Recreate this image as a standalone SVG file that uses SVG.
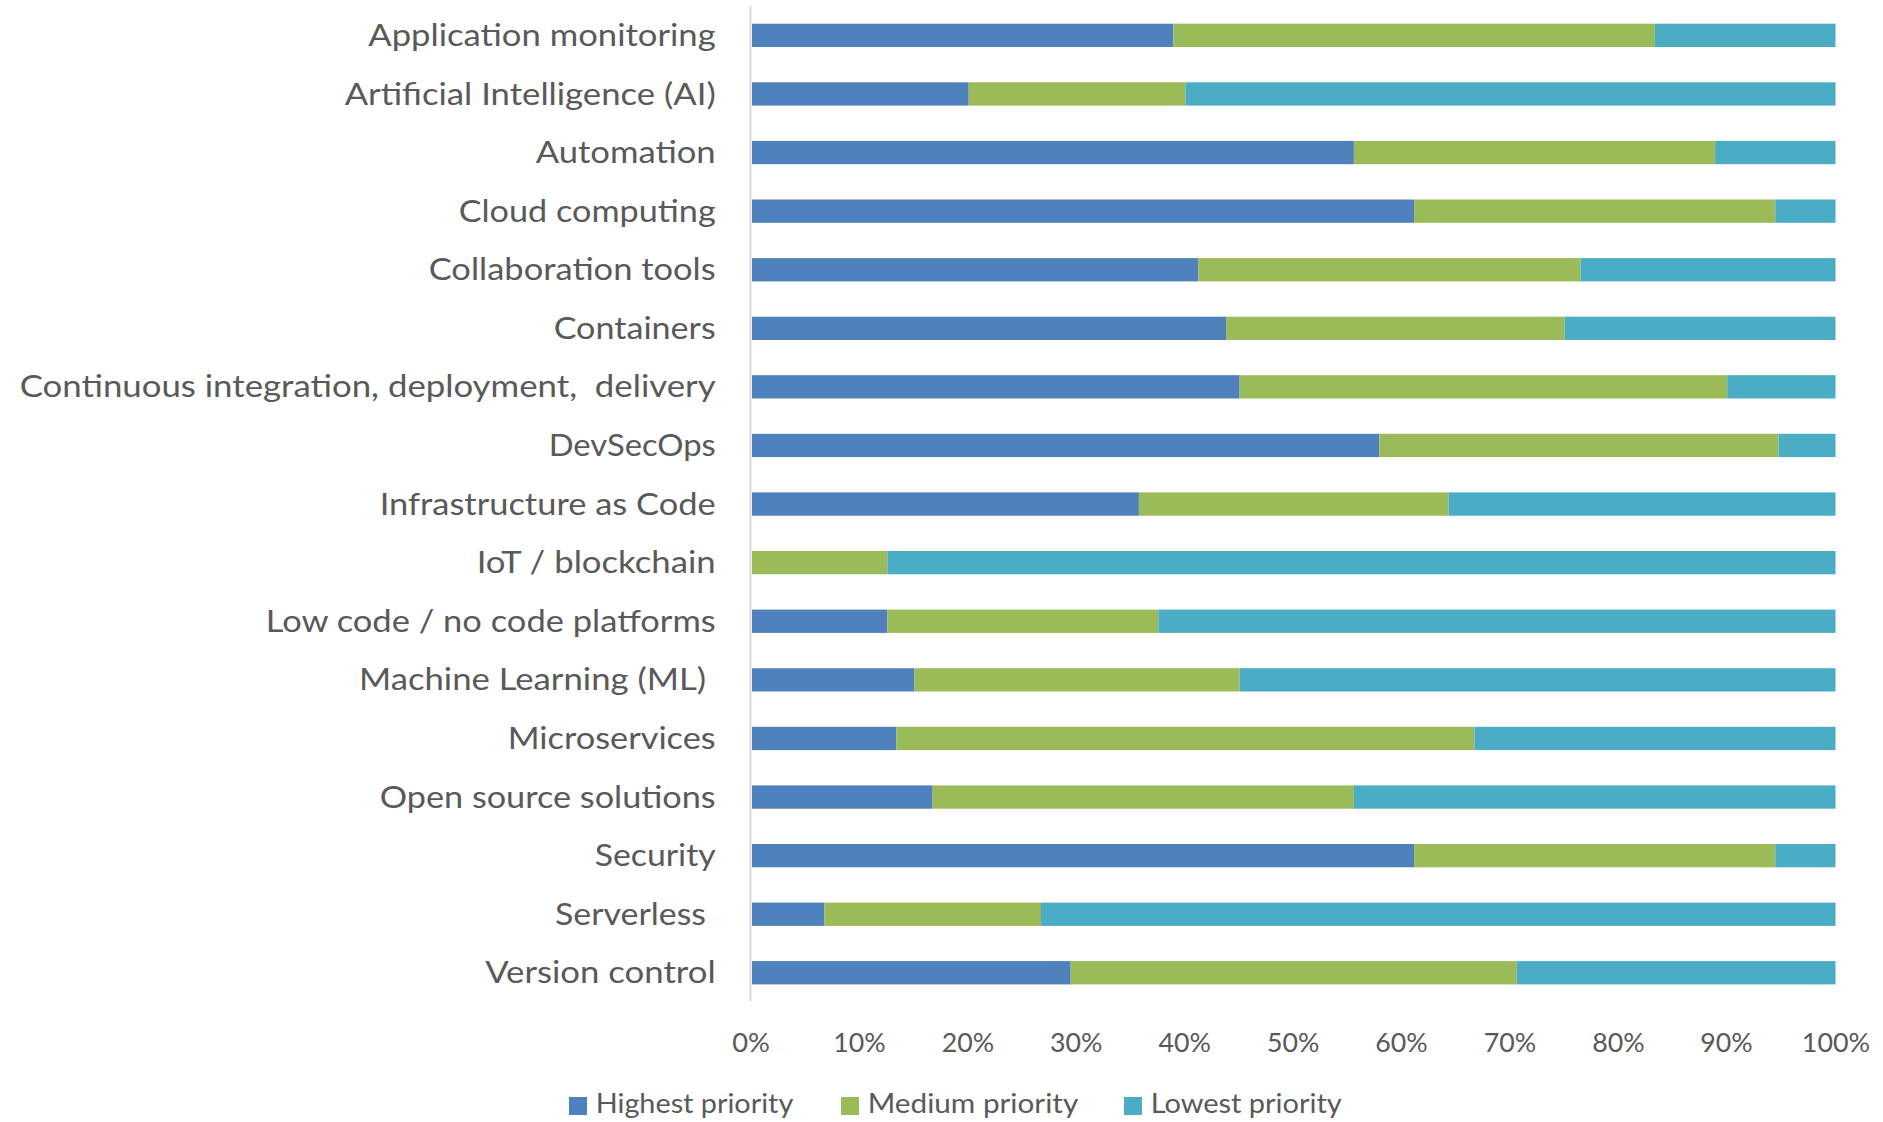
<svg xmlns="http://www.w3.org/2000/svg" width="1883" height="1122" viewBox="0 0 1883 1122">
<style>
.lbl{font-family:Lato,"Liberation Sans",sans-serif;font-size:31.7px;fill:#595959;text-anchor:end}
.tick{font-family:Lato,"Liberation Sans",sans-serif;font-size:26.5px;fill:#595959;text-anchor:middle}
.leg{font-family:Lato,"Liberation Sans",sans-serif;font-size:27px;fill:#595959}
.hi{fill:#4F81BD}
.md{fill:#9BBB59}
.lo{fill:#4BACC6}
</style>
<rect width="1883" height="1122" fill="#ffffff"/>
<g id="axis">
<line x1="750.5" y1="6" x2="750.5" y2="1001" stroke="#d9d9d9" stroke-width="2"/>
</g>
<g id="row-application-monitoring">
<rect class="hi" x="752" y="23.7" width="421.4" height="23.3"/>
<rect class="md" x="1173.4" y="23.7" width="481.5" height="23.3"/>
<rect class="lo" x="1654.9" y="23.7" width="180.6" height="23.3"/>
<text class="lbl" x="715.7" y="45.9" textLength="347.4" lengthAdjust="spacingAndGlyphs">Application monitoring</text>
</g>
<g id="row-ai">
<rect class="hi" x="752" y="82.3" width="216.7" height="23.3"/>
<rect class="md" x="968.7" y="82.3" width="216.7" height="23.3"/>
<rect class="lo" x="1185.4" y="82.3" width="650.1" height="23.3"/>
<text class="lbl" x="715.7" y="104.5" textLength="371" lengthAdjust="spacingAndGlyphs">Artificial Intelligence (AI)</text>
</g>
<g id="row-automation">
<rect class="hi" x="752" y="140.9" width="601.9" height="23.3"/>
<rect class="md" x="1353.9" y="140.9" width="361.2" height="23.3"/>
<rect class="lo" x="1715.1" y="140.9" width="120.4" height="23.3"/>
<text class="lbl" x="715.7" y="163.1" textLength="180" lengthAdjust="spacingAndGlyphs">Automation</text>
</g>
<g id="row-cloud-computing">
<rect class="hi" x="752" y="199.5" width="662.1" height="23.3"/>
<rect class="md" x="1414.1" y="199.5" width="361.2" height="23.3"/>
<rect class="lo" x="1775.3" y="199.5" width="60.2" height="23.3"/>
<text class="lbl" x="715.7" y="221.7" textLength="257" lengthAdjust="spacingAndGlyphs">Cloud computing</text>
</g>
<g id="row-collaboration-tools">
<rect class="hi" x="752" y="258.1" width="446.2" height="23.3"/>
<rect class="md" x="1198.2" y="258.1" width="382.4" height="23.3"/>
<rect class="lo" x="1580.6" y="258.1" width="254.9" height="23.3"/>
<text class="lbl" x="715.7" y="280.3" textLength="287" lengthAdjust="spacingAndGlyphs">Collaboration tools</text>
</g>
<g id="row-containers">
<rect class="hi" x="752" y="316.7" width="474" height="23.3"/>
<rect class="md" x="1226" y="316.7" width="338.6" height="23.3"/>
<rect class="lo" x="1564.6" y="316.7" width="270.9" height="23.3"/>
<text class="lbl" x="715.7" y="338.9" textLength="162" lengthAdjust="spacingAndGlyphs">Containers</text>
</g>
<g id="row-ci-cd">
<rect class="hi" x="752" y="375.2" width="487.6" height="23.3"/>
<rect class="md" x="1239.6" y="375.2" width="487.6" height="23.3"/>
<rect class="lo" x="1727.2" y="375.2" width="108.3" height="23.3"/>
<text class="lbl" x="715.7" y="397.4" textLength="696" lengthAdjust="spacingAndGlyphs" xml:space="preserve">Continuous integration, deployment,  delivery</text>
</g>
<g id="row-devsecops">
<rect class="hi" x="752" y="433.8" width="627.3" height="23.3"/>
<rect class="md" x="1379.3" y="433.8" width="399.2" height="23.3"/>
<rect class="lo" x="1778.5" y="433.8" width="57" height="23.3"/>
<text class="lbl" x="715.7" y="456" textLength="167" lengthAdjust="spacingAndGlyphs">DevSecOps</text>
</g>
<g id="row-iac">
<rect class="hi" x="752" y="492.4" width="386.9" height="23.3"/>
<rect class="md" x="1138.9" y="492.4" width="309.7" height="23.3"/>
<rect class="lo" x="1448.6" y="492.4" width="386.9" height="23.3"/>
<text class="lbl" x="715.7" y="514.6" textLength="336" lengthAdjust="spacingAndGlyphs">Infrastructure as Code</text>
</g>
<g id="row-iot">
<rect class="md" x="752" y="551" width="135.4" height="23.3"/>
<rect class="lo" x="887.4" y="551" width="948.1" height="23.3"/>
<text class="lbl" x="715.7" y="573.2" textLength="239" lengthAdjust="spacingAndGlyphs">IoT / blockchain</text>
</g>
<g id="row-low-code">
<rect class="hi" x="752" y="609.6" width="135.4" height="23.3"/>
<rect class="md" x="887.4" y="609.6" width="270.9" height="23.3"/>
<rect class="lo" x="1158.3" y="609.6" width="677.2" height="23.3"/>
<text class="lbl" x="715.7" y="631.8" textLength="450" lengthAdjust="spacingAndGlyphs">Low code / no code platforms</text>
</g>
<g id="row-ml">
<rect class="hi" x="752" y="668.2" width="162.5" height="23.3"/>
<rect class="md" x="914.5" y="668.2" width="325.1" height="23.3"/>
<rect class="lo" x="1239.6" y="668.2" width="595.9" height="23.3"/>
<text class="lbl" x="706" y="690.4" textLength="347" lengthAdjust="spacingAndGlyphs">Machine Learning (ML)</text>
</g>
<g id="row-microservices">
<rect class="hi" x="752" y="726.8" width="144.4" height="23.3"/>
<rect class="md" x="896.4" y="726.8" width="578" height="23.3"/>
<rect class="lo" x="1474.4" y="726.8" width="361.1" height="23.3"/>
<text class="lbl" x="715.7" y="749" textLength="208" lengthAdjust="spacingAndGlyphs">Microservices</text>
</g>
<g id="row-open-source">
<rect class="hi" x="752" y="785.4" width="180.6" height="23.3"/>
<rect class="md" x="932.6" y="785.4" width="421.3" height="23.3"/>
<rect class="lo" x="1353.9" y="785.4" width="481.6" height="23.3"/>
<text class="lbl" x="715.7" y="807.6" textLength="336" lengthAdjust="spacingAndGlyphs">Open source solutions</text>
</g>
<g id="row-security">
<rect class="hi" x="752" y="844" width="662.1" height="23.3"/>
<rect class="md" x="1414.1" y="844" width="361.2" height="23.3"/>
<rect class="lo" x="1775.3" y="844" width="60.2" height="23.3"/>
<text class="lbl" x="715.7" y="866.2" textLength="121" lengthAdjust="spacingAndGlyphs">Security</text>
</g>
<g id="row-serverless">
<rect class="hi" x="752" y="902.6" width="72.3" height="23.3"/>
<rect class="md" x="824.3" y="902.6" width="216.7" height="23.3"/>
<rect class="lo" x="1041" y="902.6" width="794.5" height="23.3"/>
<text class="lbl" x="706" y="924.8" textLength="151" lengthAdjust="spacingAndGlyphs">Serverless</text>
</g>
<g id="row-version-control">
<rect class="hi" x="752" y="961.1" width="318.7" height="23.3"/>
<rect class="md" x="1070.7" y="961.1" width="446.1" height="23.3"/>
<rect class="lo" x="1516.8" y="961.1" width="318.7" height="23.3"/>
<text class="lbl" x="715.7" y="983.3" textLength="230.5" lengthAdjust="spacingAndGlyphs">Version control</text>
</g>
<g id="x-axis-labels">
<text class="tick" x="751" y="1052.3" textLength="37.7" lengthAdjust="spacingAndGlyphs">0%</text>
<text class="tick" x="859.5" y="1052.3" textLength="52.4" lengthAdjust="spacingAndGlyphs">10%</text>
<text class="tick" x="968" y="1052.3" textLength="52.4" lengthAdjust="spacingAndGlyphs">20%</text>
<text class="tick" x="1076.3" y="1052.3" textLength="52.4" lengthAdjust="spacingAndGlyphs">30%</text>
<text class="tick" x="1184.7" y="1052.3" textLength="52.4" lengthAdjust="spacingAndGlyphs">40%</text>
<text class="tick" x="1293.1" y="1052.3" textLength="52.4" lengthAdjust="spacingAndGlyphs">50%</text>
<text class="tick" x="1401.5" y="1052.3" textLength="52.4" lengthAdjust="spacingAndGlyphs">60%</text>
<text class="tick" x="1509.9" y="1052.3" textLength="52.4" lengthAdjust="spacingAndGlyphs">70%</text>
<text class="tick" x="1618.5" y="1052.3" textLength="52.4" lengthAdjust="spacingAndGlyphs">80%</text>
<text class="tick" x="1726.5" y="1052.3" textLength="52.4" lengthAdjust="spacingAndGlyphs">90%</text>
<text class="tick" x="1836" y="1052.3" textLength="68.3" lengthAdjust="spacingAndGlyphs">100%</text>
</g>
<g id="legend">
<g id="legend-highest">
<rect class="hi" x="569" y="1097" width="18" height="18"/>
<text class="leg" x="595.7" y="1113.3" textLength="197.6" lengthAdjust="spacingAndGlyphs">Highest priority</text>
</g>
<g id="legend-medium">
<rect class="md" x="841" y="1097" width="18" height="18"/>
<text class="leg" x="867.7" y="1113.3" textLength="210.6" lengthAdjust="spacingAndGlyphs">Medium priority</text>
</g>
<g id="legend-lowest">
<rect class="lo" x="1124" y="1097" width="18" height="18"/>
<text class="leg" x="1150.7" y="1113.3" textLength="191" lengthAdjust="spacingAndGlyphs">Lowest priority</text>
</g>
</g>
</svg>
